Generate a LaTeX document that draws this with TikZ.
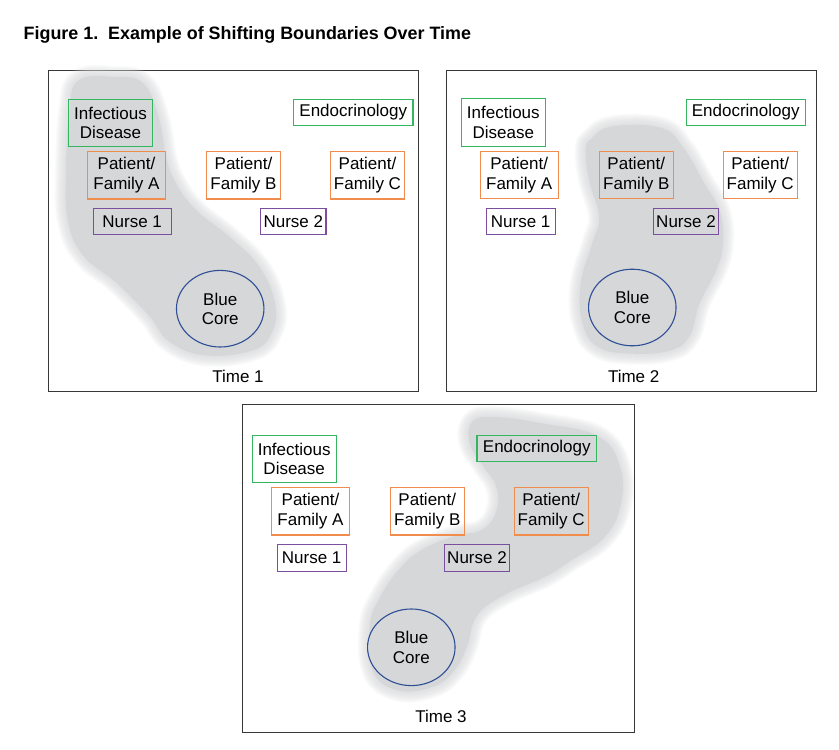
\documentclass[tikz,border=0pt]{standalone}
\usepackage{fontspec}
\setmainfont{Liberation Sans}
\usetikzlibrary{shapes.geometric}
\definecolor{blobgray}{RGB}{214,215,217}
\definecolor{framegray}{RGB}{55,55,55}
\definecolor{idgreen}{RGB}{52,182,96}
\definecolor{pforange}{RGB}{240,140,76}
\definecolor{nursepurple}{RGB}{124,78,160}
\definecolor{coreblue}{RGB}{46,78,150}
\newcommand{\blobshape}[1]{%
  \foreach \w in {22,20,18,16,14,12,10,8,6,4,2} {%
    \draw[blobgray, opacity=0.11, line width=\w pt, line join=round]
      plot[smooth cycle, tension=0.7] coordinates {#1};}
  \fill[blobgray] plot[smooth cycle, tension=0.7] coordinates {#1};
}
\begin{document}
\begin{tikzpicture}[x=1pt,y=-1pt,
  every node/.style={font=\fontsize{17}{19.5}\selectfont, align=center, inner sep=0pt},
  panel/.style={draw=framegray, line width=1pt},
  box/.style={draw, line width=1.1pt, rectangle},
  idbox/.style={box, draw=idgreen},
  pfbox/.style={box, draw=pforange, minimum height=47.4pt},
  nbox/.style={box, draw=nursepurple, minimum height=26.4pt},
  core/.style={draw=coreblue, line width=1.1pt, ellipse, minimum width=87.5pt, minimum height=76.6pt},
  timelbl/.style={}
]
\useasboundingbox (0,0) rectangle (839,750);

% title
\node[anchor=west, font=\fontsize{17.9}{20}\selectfont\bfseries] (title) at (23.5,35) {Figure 1.\ \ Example of Shifting Boundaries Over Time};

% ---------- Panel 1 ----------
\draw[panel] (48,70) rectangle (418.5,391.5);
\blobshape{(79,80) (114.7,77) (143.7,83.7) (159.3,120) (166,156.7) (176,183.3) (196,210) (229.3,236.7) (259.3,266.7) (275,303.3) (272,332) (252.7,350.3) (204.7,355.3) (169,341.3) (149,315.7) (115.7,282.3) (83.3,255.7) (67.7,220) (66,170) (69.3,110)}
\node[idbox, minimum width=83.6pt, minimum height=47.4pt] (id1) at (110.5,123) {Infectious\\Disease};
\node[idbox, minimum width=119.3pt, minimum height=25.7pt] (en1) at (353.3,112.2) {Endocrinology};
\node[pfbox, minimum width=77.6pt] (pa1) at (126.5,175.3) {Patient/\\Family A};
\node[pfbox, minimum width=73.6pt] (pb1) at (243.5,175.3) {Patient/\\Family B};
\node[pfbox, minimum width=74.4pt] (pc1) at (367.5,175.3) {Patient/\\Family C};
\node[nbox, minimum width=77.7pt] (na1) at (132.2,221.5) {Nurse 1};
\node[nbox, minimum width=65.3pt] (nb1) at (293.3,221.5) {Nurse 2};
\node[core] (bc1) at (220.2,308.7) {Blue\\Core};
\node[timelbl] (t1) at (238,376) {Time 1};

% ---------- Panel 2 ----------
\draw[panel] (446,70) rectangle (816.5,391.5);
\blobshape{(591.3,138.7) (612.7,126.3) (661.7,128) (684,148.7) (703,181) (719.7,211) (723,243.3) (716.3,270) (699.7,303.3) (689.7,335.7) (670.7,350.3) (632.7,353.7) (598,347) (582.3,322.3) (580.7,283.3) (592.3,243.3) (599,216.7) (589,180) (585.7,150)}
\node[idbox, minimum width=84pt, minimum height=47.6pt] (id2) at (503.3,122.5) {Infectious\\Disease};
\node[idbox, minimum width=119.3pt, minimum height=25.7pt] (en2) at (745.7,112.2) {Endocrinology};
\node[pfbox, minimum width=77.7pt] (pa2) at (519.2,175.2) {Patient/\\Family A};
\node[pfbox, minimum width=74pt] (pb2) at (636.3,175.2) {Patient/\\Family B};
\node[pfbox, minimum width=74.3pt] (pc2) at (760.2,175.2) {Patient/\\Family C};
\node[nbox, minimum width=69.3pt] (na2) at (520.7,221.5) {Nurse 1};
\node[nbox, minimum width=65.4pt] (nb2) at (686,221.5) {Nurse 2};
\node[core] (bc2) at (632.3,307.5) {Blue\\Core};
\node[timelbl] (t2) at (633.7,376) {Time 2};

% ---------- Panel 3 ----------
\draw[panel] (242.7,404.7) rectangle (634,732.3);
\blobshape{(472,422) (493.3,417) (540,423) (598,436.3) (620.3,467.7) (620.3,506.7) (603.7,538) (571.3,560.3) (544.7,577) (504.7,594.7) (477,615.7) (467,646.7) (453.7,671.3) (432.3,687) (397.7,690.3) (373,671.3) (369.7,626.7) (379.7,597.7) (399.7,568.7) (422,549.7) (454.3,536.3) (482,529.7) (496.3,511) (496.3,486.7) (483,465.7) (469.7,443.3)}
\node[idbox, minimum width=83.7pt, minimum height=47.3pt] (id3) at (294.2,458.7) {Infectious\\Disease};
\node[idbox, minimum width=119.7pt, minimum height=26.3pt] (en3) at (536.8,448.2) {Endocrinology};
\node[pfbox, minimum width=77.7pt] (pa3) at (310.5,511.3) {Patient/\\Family A};
\node[pfbox, minimum width=74pt] (pb3) at (427.3,511.3) {Patient/\\Family B};
\node[pfbox, minimum width=74.3pt] (pc3) at (551.2,511.3) {Patient/\\Family C};
\node[nbox, minimum width=69.3pt, minimum height=26.7pt] (na3) at (311.7,557.7) {Nurse 1};
\node[nbox, minimum width=65.3pt, minimum height=26.7pt] (nb3) at (477,557.7) {Nurse 2};
\node[core, minimum height=76.6pt] (bc3) at (411.3,647.3) {Blue\\Core};
\node[timelbl] (t3) at (441,716) {Time 3};
\end{tikzpicture}
\end{document}
